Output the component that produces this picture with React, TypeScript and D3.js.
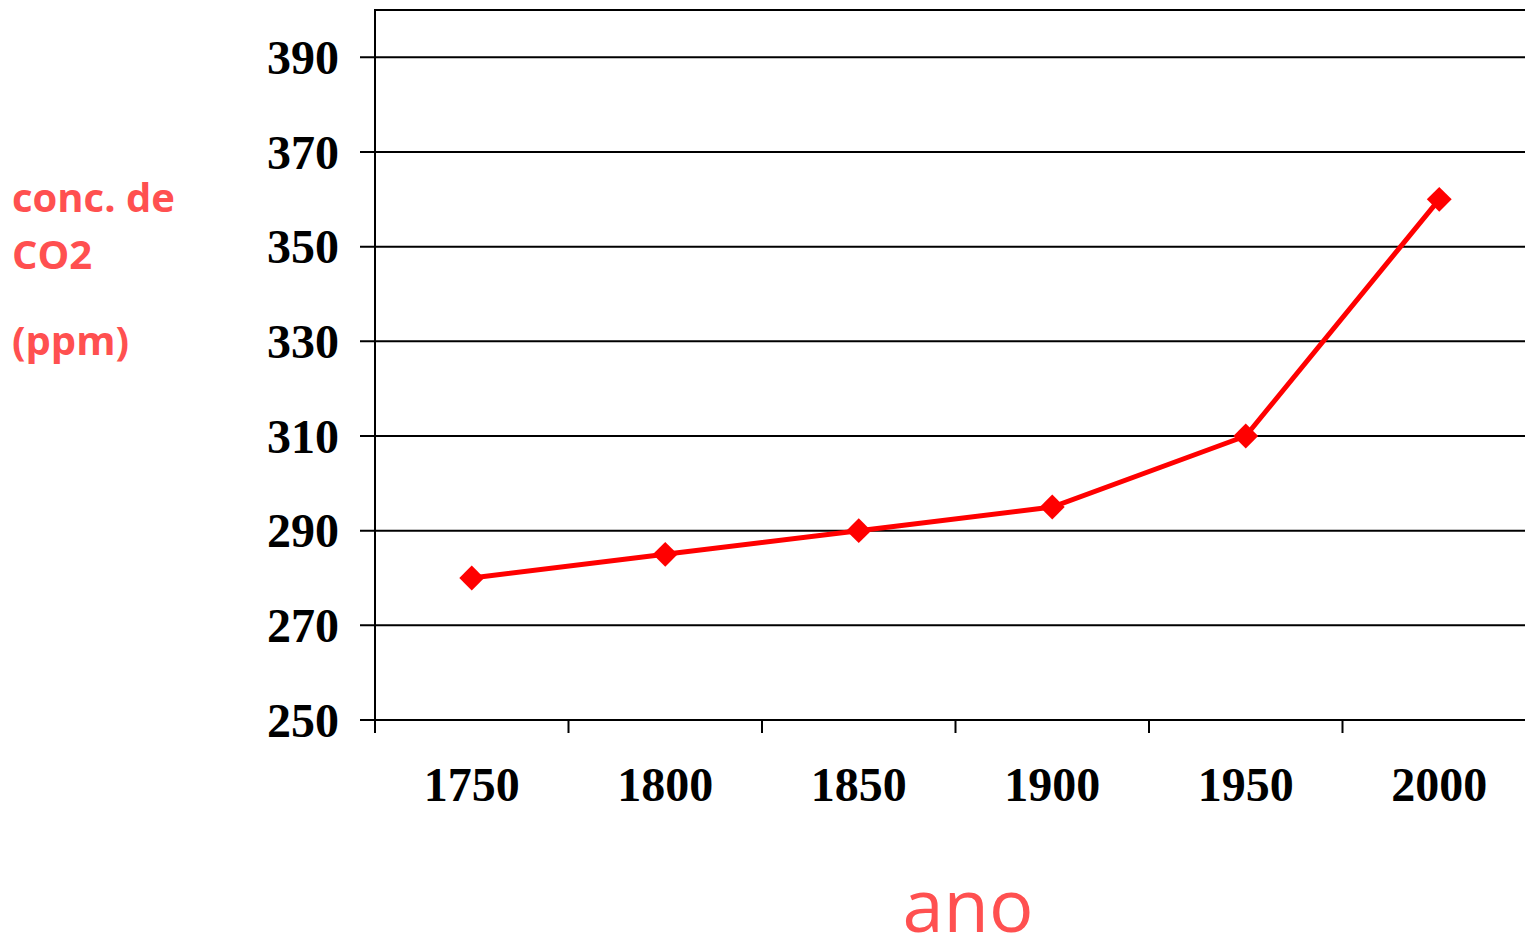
import React, { useEffect, useRef } from "react";
import * as d3 from "d3";

// data
const years = ["1750", "1800", "1850", "1900", "1950", "2000"];
const co2 = [280, 285, 290, 295, 310, 360];
const yTicks = [250, 270, 290, 310, 330, 350, 370, 390];
const yLabelLines = ["conc. de", "CO2", "(ppm)"];

const width = 1525,
  height = 941;
const margin = { top: 10, left: 375, bottom: 221 };
const plotRight = 1536;

const App = () => {
  const ref = useRef<SVGSVGElement>(null);

  useEffect(() => {
    const svg = d3.select(ref.current);
    svg.selectAll("*").remove();

    const x = d3.scaleBand().domain(years).range([margin.left, plotRight]);
    const y = d3
      .scaleLinear()
      .domain([250, 400])
      .range([height - margin.bottom, margin.top]);

    // horizontal grid lines + left ticks
    svg
      .append("g")
      .selectAll("line")
      .data(yTicks)
      .enter()
      .append("line")
      .attr("x1", margin.left - 15)
      .attr("x2", plotRight)
      .attr("y1", (d) => y(d))
      .attr("y2", (d) => y(d))
      .attr("stroke", "black")
      .attr("stroke-width", 2);

    // top border
    svg
      .append("line")
      .attr("x1", margin.left)
      .attr("x2", plotRight)
      .attr("y1", y(400))
      .attr("y2", y(400))
      .attr("stroke", "black")
      .attr("stroke-width", 2);

    // left axis line
    svg
      .append("line")
      .attr("x1", margin.left)
      .attr("x2", margin.left)
      .attr("y1", y(400) - 1)
      .attr("y2", y(250) + 13)
      .attr("stroke", "black")
      .attr("stroke-width", 2);

    // x ticks between categories
    svg
      .append("g")
      .selectAll("line")
      .data(years.slice(1))
      .enter()
      .append("line")
      .attr("x1", (d) => x(d)!)
      .attr("x2", (d) => x(d)!)
      .attr("y1", y(250))
      .attr("y2", y(250) + 13)
      .attr("stroke", "black")
      .attr("stroke-width", 2);

    const serif = "'Liberation Serif', 'Times New Roman', serif";

    // y tick labels
    svg
      .append("g")
      .selectAll("text")
      .data(yTicks)
      .enter()
      .append("text")
      .attr("x", margin.left - 36)
      .attr("y", (d) => y(d))
      .attr("dy", "0.35em")
      .attr("text-anchor", "end")
      .style("font-family", serif)
      .style("font-weight", "bold")
      .style("font-size", "48px")
      .text((d) => d);

    // x tick labels
    svg
      .append("g")
      .selectAll("text")
      .data(years)
      .enter()
      .append("text")
      .attr("x", (d) => x(d)! + x.bandwidth() / 2)
      .attr("y", 801)
      .attr("text-anchor", "middle")
      .style("font-family", serif)
      .style("font-weight", "bold")
      .style("font-size", "48px")
      .text((d) => d);

    // the line
    const pts = years.map((yr, i) => [x(yr)! + x.bandwidth() / 2, y(co2[i])] as [number, number]);
    svg
      .append("path")
      .datum(pts)
      .attr("d", d3.line())
      .attr("fill", "none")
      .attr("stroke", "#ff0000")
      .attr("stroke-width", 5);

    // diamond markers
    svg
      .append("g")
      .selectAll("path")
      .data(pts)
      .enter()
      .append("path")
      .attr("d", d3.symbol(d3.symbolSquare, 310)())
      .attr("transform", (d) => `translate(${d[0]},${d[1]}) rotate(45)`)
      .attr("fill", "#ff0000");

    // y axis title
    svg
      .append("g")
      .selectAll("text")
      .data(yLabelLines)
      .enter()
      .append("text")
      .attr("x", 12)
      .attr("y", (d, i) => [212, 269, 355][i])
      .style("font-family", "'Open Sans', Lato, sans-serif")
      .style("font-weight", "bold")
      .style("font-size", "40px")
      .attr("fill", "#ff5050")
      .text((d) => d);

    // x axis title
    svg
      .append("text")
      .attr("x", 968)
      .attr("y", 932)
      .attr("text-anchor", "middle")
      .style("font-family", "'Open Sans', sans-serif")
      .style("font-size", "74px")
      .attr("fill", "#ff5050")
      .text("ano");
  }, []);

  return (
    <svg
      ref={ref}
      width={width}
      height={height}
      style={{ position: "absolute", left: 0, top: 0, background: "white" }}
    ></svg>
  );
};

export default App;
